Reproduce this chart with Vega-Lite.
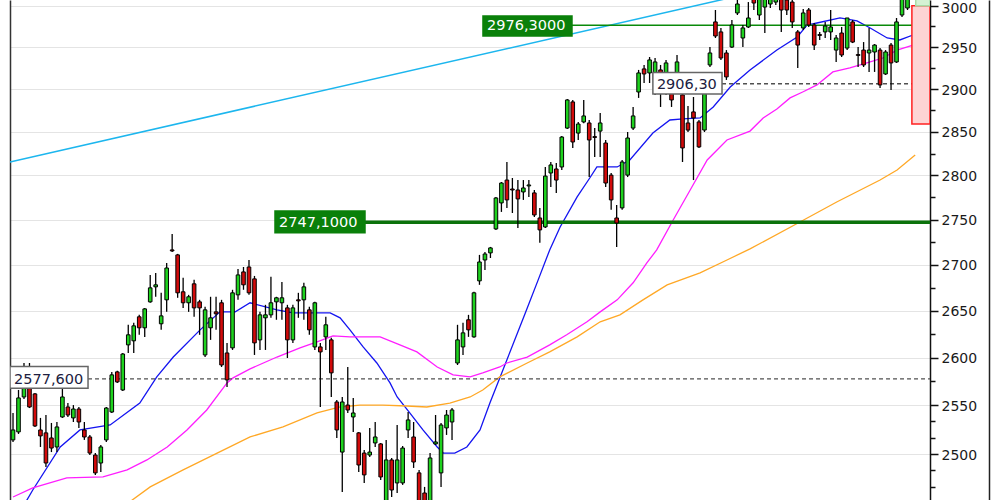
{
  "$schema": "https://vega.github.io/schema/vega-lite/v6.json",
  "width": 920,
  "height": 500,
  "autosize": {"type": "none"},
  "padding": {"left": 10, "top": 0, "right": 70, "bottom": 0},
  "background": "#ffffff",
  "config": {"view": {"stroke": null}, "font": "DejaVu Sans", "scale": {"continuousPadding": 0}},
  "resolve": {"axis": {"y": "independent"}},
  "datasets": {
    "candles": [
      {"i":0,"o":2514.4,"h":2542.1,"l":2512.3,"c":2524.6},
      {"i":1,"o":2522.6,"h":2566.0,"l":2520.5,"c":2557.7},
      {"i":2,"o":2558.7,"h":2594.3,"l":2556.6,"c":2569.2},
      {"i":3,"o":2568.1,"h":2594.3,"l":2547.2,"c":2548.3},
      {"i":4,"o":2561.9,"h":2562.9,"l":2527.7,"c":2528.7},
      {"i":5,"o":2524.6,"h":2537.0,"l":2507.2,"c":2518.5},
      {"i":6,"o":2521.6,"h":2540.0,"l":2486.9,"c":2490.9},
      {"i":7,"o":2516.4,"h":2531.8,"l":2502.0,"c":2506.1},
      {"i":8,"o":2507.2,"h":2532.8,"l":2502.0,"c":2527.7},
      {"i":9,"o":2538.0,"h":2568.1,"l":2537.0,"c":2558.7},
      {"i":10,"o":2548.3,"h":2552.4,"l":2538.0,"c":2540.0},
      {"i":11,"o":2537.0,"h":2550.3,"l":2532.8,"c":2546.2},
      {"i":12,"o":2546.2,"h":2548.3,"l":2526.7,"c":2532.8},
      {"i":13,"o":2524.6,"h":2532.8,"l":2514.4,"c":2517.4},
      {"i":14,"o":2517.4,"h":2519.5,"l":2499.0,"c":2501.0},
      {"i":15,"o":2499.0,"h":2501.0,"l":2478.9,"c":2480.9},
      {"i":16,"o":2490.9,"h":2509.2,"l":2481.9,"c":2507.2},
      {"i":17,"o":2514.4,"h":2548.3,"l":2512.3,"c":2547.2},
      {"i":18,"o":2543.1,"h":2584.9,"l":2542.1,"c":2581.8},
      {"i":19,"o":2584.9,"h":2586.0,"l":2573.4,"c":2574.4},
      {"i":20,"o":2566.0,"h":2604.9,"l":2565.0,"c":2603.8},
      {"i":21,"o":2613.5,"h":2634.9,"l":2604.9,"c":2624.2},
      {"i":22,"o":2617.8,"h":2637.0,"l":2604.9,"c":2633.8},
      {"i":23,"o":2643.5,"h":2645.6,"l":2624.2,"c":2631.7},
      {"i":24,"o":2631.7,"h":2653.1,"l":2622.0,"c":2652.0},
      {"i":25,"o":2659.6,"h":2688.9,"l":2658.6,"c":2674.8},
      {"i":26,"o":2675.9,"h":2691.1,"l":2665.1,"c":2678.1},
      {"i":27,"o":2636.0,"h":2669.4,"l":2629.5,"c":2644.5},
      {"i":28,"o":2661.8,"h":2702.0,"l":2648.8,"c":2696.5},
      {"i":29,"o":2716.4,"h":2734.1,"l":2714.2,"c":2715.3},
      {"i":30,"o":2710.9,"h":2712.0,"l":2664.0,"c":2669.4},
      {"i":31,"o":2670.5,"h":2685.7,"l":2653.1,"c":2658.6},
      {"i":32,"o":2658.6,"h":2667.2,"l":2648.8,"c":2665.1},
      {"i":33,"o":2679.2,"h":2683.5,"l":2643.5,"c":2653.1},
      {"i":34,"o":2659.6,"h":2661.8,"l":2624.2,"c":2653.1},
      {"i":35,"o":2602.8,"h":2654.2,"l":2600.6,"c":2651.0},
      {"i":36,"o":2631.7,"h":2665.1,"l":2618.8,"c":2642.4},
      {"i":37,"o":2648.8,"h":2665.1,"l":2629.5,"c":2646.7},
      {"i":38,"o":2658.6,"h":2661.8,"l":2590.1,"c":2592.2},
      {"i":39,"o":2604.9,"h":2615.6,"l":2569.2,"c":2576.5},
      {"i":40,"o":2610.3,"h":2672.7,"l":2608.1,"c":2669.4},
      {"i":41,"o":2667.2,"h":2695.4,"l":2661.8,"c":2688.9},
      {"i":42,"o":2692.2,"h":2697.6,"l":2672.7,"c":2678.1},
      {"i":43,"o":2697.6,"h":2705.3,"l":2667.2,"c":2669.4},
      {"i":44,"o":2684.6,"h":2687.8,"l":2602.8,"c":2615.6},
      {"i":45,"o":2618.8,"h":2648.8,"l":2608.1,"c":2645.6},
      {"i":46,"o":2642.4,"h":2656.4,"l":2608.1,"c":2645.6},
      {"i":47,"o":2645.6,"h":2686.8,"l":2642.4,"c":2658.6},
      {"i":48,"o":2659.6,"h":2665.1,"l":2640.3,"c":2664.0},
      {"i":49,"o":2658.6,"h":2681.3,"l":2640.3,"c":2664.0},
      {"i":50,"o":2653.1,"h":2656.4,"l":2599.6,"c":2618.8},
      {"i":51,"o":2618.8,"h":2656.4,"l":2615.6,"c":2653.1},
      {"i":52,"o":2661.8,"h":2669.4,"l":2642.4,"c":2660.7},
      {"i":53,"o":2661.8,"h":2680.3,"l":2640.3,"c":2675.9},
      {"i":54,"o":2651.0,"h":2654.2,"l":2624.2,"c":2629.5},
      {"i":55,"o":2611.3,"h":2659.6,"l":2608.1,"c":2658.6},
      {"i":56,"o":2611.3,"h":2615.6,"l":2548.3,"c":2606.0},
      {"i":57,"o":2622.0,"h":2643.5,"l":2608.1,"c":2634.9},
      {"i":58,"o":2618.8,"h":2621.0,"l":2558.7,"c":2583.9},
      {"i":59,"o":2553.5,"h":2555.6,"l":2516.4,"c":2524.6},
      {"i":60,"o":2502.0,"h":2558.7,"l":2461.7,"c":2553.5},
      {"i":61,"o":2550.3,"h":2590.1,"l":2542.1,"c":2545.2},
      {"i":62,"o":2538.0,"h":2557.7,"l":2522.6,"c":2542.1},
      {"i":63,"o":2521.6,"h":2522.6,"l":2481.9,"c":2488.9},
      {"i":64,"o":2501.0,"h":2504.1,"l":2470.8,"c":2478.9},
      {"i":65,"o":2499.0,"h":2526.7,"l":2497.0,"c":2502.0},
      {"i":66,"o":2511.3,"h":2532.8,"l":2507.2,"c":2517.4},
      {"i":67,"o":2510.3,"h":2511.3,"l":2473.8,"c":2476.8},
      {"i":68,"o":2451.7,"h":2514.4,"l":2445.6,"c":2494.0},
      {"i":69,"o":2494.0,"h":2496.0,"l":2456.7,"c":2463.7},
      {"i":70,"o":2470.8,"h":2529.7,"l":2460.7,"c":2494.0},
      {"i":71,"o":2470.8,"h":2508.2,"l":2468.8,"c":2506.1},
      {"i":72,"o":2524.6,"h":2543.1,"l":2516.4,"c":2534.9},
      {"i":73,"o":2517.4,"h":2532.8,"l":2485.9,"c":2491.9},
      {"i":74,"o":2480.9,"h":2483.9,"l":2445.6,"c":2450.7},
      {"i":75,"o":2460.7,"h":2466.8,"l":2438.6,"c":2443.6},
      {"i":76,"o":2443.6,"h":2501.0,"l":2438.6,"c":2496.0},
      {"i":77,"o":2510.3,"h":2540.0,"l":2509.2,"c":2512.3},
      {"i":78,"o":2480.9,"h":2531.8,"l":2466.8,"c":2529.7},
      {"i":79,"o":2526.7,"h":2545.2,"l":2519.5,"c":2540.0},
      {"i":80,"o":2532.8,"h":2547.2,"l":2514.4,"c":2545.2},
      {"i":81,"o":2594.3,"h":2634.9,"l":2592.2,"c":2618.8},
      {"i":82,"o":2611.3,"h":2637.0,"l":2602.8,"c":2626.3},
      {"i":83,"o":2640.3,"h":2645.6,"l":2622.0,"c":2629.5},
      {"i":84,"o":2622.0,"h":2670.5,"l":2621.0,"c":2669.4},
      {"i":85,"o":2682.4,"h":2710.9,"l":2678.1,"c":2703.1},
      {"i":86,"o":2705.3,"h":2714.2,"l":2694.4,"c":2711.9},
      {"i":87,"o":2713.1,"h":2719.7,"l":2707.5,"c":2718.6},
      {"i":88,"o":2739.7,"h":2775.6,"l":2738.6,"c":2774.4},
      {"i":89,"o":2768.8,"h":2792.5,"l":2758.7,"c":2791.3},
      {"i":90,"o":2794.7,"h":2815.3,"l":2763.2,"c":2772.2},
      {"i":91,"o":2784.5,"h":2797.0,"l":2757.5,"c":2783.4},
      {"i":92,"o":2783.4,"h":2794.7,"l":2740.8,"c":2773.3},
      {"i":93,"o":2781.2,"h":2794.7,"l":2772.2,"c":2785.7},
      {"i":94,"o":2788.0,"h":2794.7,"l":2775.6,"c":2789.1},
      {"i":95,"o":2780.1,"h":2783.4,"l":2753.0,"c":2755.3},
      {"i":96,"o":2751.9,"h":2763.2,"l":2724.2,"c":2738.6},
      {"i":97,"o":2741.9,"h":2809.6,"l":2740.8,"c":2799.2},
      {"i":98,"o":2802.7,"h":2815.3,"l":2786.8,"c":2811.9},
      {"i":99,"o":2807.3,"h":2814.2,"l":2780.1,"c":2794.7},
      {"i":100,"o":2809.6,"h":2845.2,"l":2806.2,"c":2844.0},
      {"i":101,"o":2854.4,"h":2888.4,"l":2853.3,"c":2887.2},
      {"i":102,"o":2884.9,"h":2887.2,"l":2831.4,"c":2838.3},
      {"i":103,"o":2848.6,"h":2861.5,"l":2840.6,"c":2859.1},
      {"i":104,"o":2861.5,"h":2887.2,"l":2860.0,"c":2868.5},
      {"i":105,"o":2860.3,"h":2863.8,"l":2798.1,"c":2840.6},
      {"i":106,"o":2844.5,"h":2854.4,"l":2821.0,"c":2843.5},
      {"i":107,"o":2850.9,"h":2872.0,"l":2821.0,"c":2860.3},
      {"i":108,"o":2837.1,"h":2840.6,"l":2786.8,"c":2791.3},
      {"i":109,"o":2800.3,"h":2802.7,"l":2761.0,"c":2772.2},
      {"i":110,"o":2751.9,"h":2766.5,"l":2719.7,"c":2746.3},
      {"i":111,"o":2763.2,"h":2817.6,"l":2761.0,"c":2815.3},
      {"i":112,"o":2800.3,"h":2849.8,"l":2798.1,"c":2842.9},
      {"i":113,"o":2854.4,"h":2879.0,"l":2852.1,"c":2868.5},
      {"i":114,"o":2896.6,"h":2922.7,"l":2889.6,"c":2919.1},
      {"i":115,"o":2923.9,"h":2928.6,"l":2907.2,"c":2917.9},
      {"i":116,"o":2919.1,"h":2938.1,"l":2907.2,"c":2934.6},
      {"i":117,"o":2910.8,"h":2936.9,"l":2893.1,"c":2932.2},
      {"i":118,"o":2922.7,"h":2928.6,"l":2879.0,"c":2896.6},
      {"i":119,"o":2904.9,"h":2934.6,"l":2893.1,"c":2931.0},
      {"i":120,"o":2895.4,"h":2901.3,"l":2879.0,"c":2887.2},
      {"i":121,"o":2914.4,"h":2940.5,"l":2910.8,"c":2932.2},
      {"i":122,"o":2893.1,"h":2895.4,"l":2815.3,"c":2831.4},
      {"i":123,"o":2860.3,"h":2880.2,"l":2849.8,"c":2852.1},
      {"i":124,"o":2873.2,"h":2890.7,"l":2794.7,"c":2866.2},
      {"i":125,"o":2861.5,"h":2863.8,"l":2831.4,"c":2832.6},
      {"i":126,"o":2852.1,"h":2898.9,"l":2849.8,"c":2895.4},
      {"i":127,"o":2928.6,"h":2950.0,"l":2926.2,"c":2942.9},
      {"i":128,"o":2980.3,"h":2994.8,"l":2960.9,"c":2963.3},
      {"i":129,"o":2968.2,"h":2973.0,"l":2934.6,"c":2936.9},
      {"i":130,"o":2942.9,"h":2946.4,"l":2910.8,"c":2914.4},
      {"i":131,"o":2950.0,"h":2982.7,"l":2948.8,"c":2976.6},
      {"i":132,"o":2991.2,"h":3007.0,"l":2988.7,"c":3002.1},
      {"i":133,"o":2960.9,"h":2976.6,"l":2950.0,"c":2973.0},
      {"i":134,"o":2974.2,"h":3004.5,"l":2973.0,"c":2985.1},
      {"i":135,"o":3013.1,"h":3019.2,"l":2994.8,"c":3003.3},
      {"i":136,"o":2988.7,"h":3019.2,"l":2982.7,"c":3013.1},
      {"i":137,"o":2998.4,"h":3019.2,"l":2966.9,"c":3010.6},
      {"i":138,"o":3002.1,"h":3016.7,"l":2997.2,"c":3009.4},
      {"i":139,"o":3004.5,"h":3021.6,"l":3000.9,"c":3016.7},
      {"i":140,"o":3010.6,"h":3016.7,"l":2968.2,"c":2994.8},
      {"i":141,"o":3007.0,"h":3013.1,"l":2988.7,"c":2994.8},
      {"i":142,"o":3004.5,"h":3010.6,"l":2973.0,"c":2980.3},
      {"i":143,"o":2968.2,"h":2970.6,"l":2925.1,"c":2952.4},
      {"i":144,"o":2973.0,"h":2996.0,"l":2970.6,"c":2991.2},
      {"i":145,"o":2994.8,"h":2997.2,"l":2974.2,"c":2976.6},
      {"i":146,"o":2976.6,"h":2979.0,"l":2946.4,"c":2952.4},
      {"i":147,"o":2965.0,"h":2968.2,"l":2958.5,"c":2964.0},
      {"i":148,"o":2968.2,"h":2980.3,"l":2960.9,"c":2975.4},
      {"i":149,"o":2968.2,"h":2994.8,"l":2958.5,"c":2974.2},
      {"i":150,"o":2946.4,"h":2964.5,"l":2932.2,"c":2960.9},
      {"i":151,"o":2966.9,"h":2974.2,"l":2938.1,"c":2940.5},
      {"i":152,"o":2948.8,"h":2985.1,"l":2946.4,"c":2985.1},
      {"i":153,"o":2980.3,"h":2982.7,"l":2954.8,"c":2956.0},
      {"i":154,"o":2941.0,"h":2950.0,"l":2926.2,"c":2940.0},
      {"i":155,"o":2946.4,"h":2956.0,"l":2926.2,"c":2928.6},
      {"i":156,"o":2942.9,"h":2973.0,"l":2920.3,"c":2946.4},
      {"i":157,"o":2944.1,"h":2953.6,"l":2920.3,"c":2952.4},
      {"i":158,"o":2946.4,"h":2948.8,"l":2901.3,"c":2904.9},
      {"i":159,"o":2917.9,"h":2946.4,"l":2916.7,"c":2944.1},
      {"i":160,"o":2952.4,"h":2954.8,"l":2899.0,"c":2931.0},
      {"i":161,"o":2932.2,"h":2985.1,"l":2931.0,"c":2980.3},
      {"i":162,"o":2988.7,"h":3019.2,"l":2986.3,"c":3013.1},
      {"i":163,"o":2997.2,"h":3024.1,"l":2994.8,"c":3016.7}
    ],
    "ma": [
      {"s":"MA20","i":0,"v":2430},{"s":"MA20","i":3.6,"v":2463.7},{"s":"MA20","i":8.6,"v":2507.2},{"s":"MA20","i":12.2,"v":2524.6},{"s":"MA20","i":17.7,"v":2529.7},{"s":"MA20","i":23.1,"v":2552.4},{"s":"MA20","i":26.2,"v":2579.7},{"s":"MA20","i":29.2,"v":2600.6},{"s":"MA20","i":34.1,"v":2629.5},{"s":"MA20","i":37.7,"v":2648.8},{"s":"MA20","i":40.5,"v":2648.8},{"s":"MA20","i":43.2,"v":2658.6},{"s":"MA20","i":48.1,"v":2651.0},{"s":"MA20","i":51,"v":2647.8},{"s":"MA20","i":57.8,"v":2647.8},{"s":"MA20","i":59.6,"v":2642.4},{"s":"MA20","i":61.4,"v":2629.5},{"s":"MA20","i":63.8,"v":2611.3},{"s":"MA20","i":66.3,"v":2594.3},{"s":"MA20","i":68.7,"v":2573.4},{"s":"MA20","i":70,"v":2558.7},{"s":"MA20","i":72.3,"v":2542.1},{"s":"MA20","i":74.7,"v":2524.6},{"s":"MA20","i":77.3,"v":2507.2},{"s":"MA20","i":78.4,"v":2501.0},{"s":"MA20","i":80.5,"v":2501.0},{"s":"MA20","i":82.7,"v":2507.2},{"s":"MA20","i":85.1,"v":2524.6},{"s":"MA20","i":86.9,"v":2552.4},{"s":"MA20","i":88.7,"v":2578.6},{"s":"MA20","i":93.3,"v":2646.7},{"s":"MA20","i":95.7,"v":2683.5},{"s":"MA20","i":97.8,"v":2716.4},{"s":"MA20","i":99.7,"v":2741.9},{"s":"MA20","i":102.8,"v":2775.6},{"s":"MA20","i":105.1,"v":2797.0},{"s":"MA20","i":106.4,"v":2809.6},{"s":"MA20","i":110.1,"v":2809.6},{"s":"MA20","i":112.4,"v":2817.6},{"s":"MA20","i":116.6,"v":2848.6},{"s":"MA20","i":119.7,"v":2863.8},{"s":"MA20","i":122.1,"v":2865.0},{"s":"MA20","i":125.2,"v":2866.2},{"s":"MA20","i":127.6,"v":2879.0},{"s":"MA20","i":130.7,"v":2902.5},{"s":"MA20","i":134.3,"v":2922.7},{"s":"MA20","i":139.2,"v":2946.4},{"s":"MA20","i":142.9,"v":2962.1},{"s":"MA20","i":144.7,"v":2976.6},{"s":"MA20","i":146.5,"v":2979.0},{"s":"MA20","i":150.7,"v":2985.1},{"s":"MA20","i":153.8,"v":2981.5},{"s":"MA20","i":156.2,"v":2973.0},{"s":"MA20","i":159.3,"v":2960.9},{"s":"MA20","i":161.6,"v":2958.5},{"s":"MA20","i":164,"v":2964.5},
      {"s":"MA50","i":0,"v":2456.7},{"s":"MA50","i":3.6,"v":2465.8},{"s":"MA50","i":9.8,"v":2475.9},{"s":"MA50","i":16.4,"v":2476.8},{"s":"MA50","i":20.8,"v":2483.9},{"s":"MA50","i":24.4,"v":2494.0},{"s":"MA50","i":28.1,"v":2507.2},{"s":"MA50","i":31.7,"v":2524.6},{"s":"MA50","i":35.3,"v":2545.2},{"s":"MA50","i":39.0,"v":2573.4},{"s":"MA50","i":40.1,"v":2578.6},{"s":"MA50","i":43.2,"v":2588.1},{"s":"MA50","i":48.1,"v":2600.6},{"s":"MA50","i":52.3,"v":2610.3},{"s":"MA50","i":55.4,"v":2616.7},{"s":"MA50","i":58.3,"v":2623.1},{"s":"MA50","i":61.4,"v":2622.0},{"s":"MA50","i":66.9,"v":2622.0},{"s":"MA50","i":70.5,"v":2613.5},{"s":"MA50","i":73.6,"v":2606.0},{"s":"MA50","i":77.3,"v":2590.1},{"s":"MA50","i":80.2,"v":2581.8},{"s":"MA50","i":83.3,"v":2579.7},{"s":"MA50","i":85.6,"v":2583.9},{"s":"MA50","i":88.7,"v":2590.1},{"s":"MA50","i":90.0,"v":2594.3},{"s":"MA50","i":93.7,"v":2600.6},{"s":"MA50","i":97.8,"v":2613.5},{"s":"MA50","i":100.9,"v":2624.2},{"s":"MA50","i":104.6,"v":2638.1},{"s":"MA50","i":107.0,"v":2648.8},{"s":"MA50","i":110.1,"v":2661.8},{"s":"MA50","i":113.0,"v":2680.3},{"s":"MA50","i":115.5,"v":2702.0},{"s":"MA50","i":117.3,"v":2716.4},{"s":"MA50","i":120.3,"v":2749.7},{"s":"MA50","i":123.4,"v":2783.4},{"s":"MA50","i":126.5,"v":2817.6},{"s":"MA50","i":130.1,"v":2840.6},{"s":"MA50","i":134.3,"v":2850.9},{"s":"MA50","i":136.7,"v":2866.2},{"s":"MA50","i":139.2,"v":2876.7},{"s":"MA50","i":141.6,"v":2889.6},{"s":"MA50","i":143.9,"v":2896.6},{"s":"MA50","i":146.5,"v":2904.9},{"s":"MA50","i":149.4,"v":2920.3},{"s":"MA50","i":152.5,"v":2925.1},{"s":"MA50","i":155.6,"v":2931.0},{"s":"MA50","i":158.5,"v":2936.9},{"s":"MA50","i":161.1,"v":2946.4},{"s":"MA50","i":164.0,"v":2952.4},
      {"s":"MA100","i":21.3,"v":2452.0},{"s":"MA100","i":25.0,"v":2466.8},{"s":"MA100","i":31.0,"v":2483.9},{"s":"MA100","i":37.2,"v":2501.0},{"s":"MA100","i":43.2,"v":2517.4},{"s":"MA100","i":49.2,"v":2527.7},{"s":"MA100","i":55.4,"v":2542.1},{"s":"MA100","i":59.6,"v":2548.3},{"s":"MA100","i":63.2,"v":2550.3},{"s":"MA100","i":67.4,"v":2550.3},{"s":"MA100","i":71.8,"v":2549.3},{"s":"MA100","i":75.4,"v":2548.3},{"s":"MA100","i":79.6,"v":2552.4},{"s":"MA100","i":83.3,"v":2558.7},{"s":"MA100","i":85.6,"v":2566.0},{"s":"MA100","i":88.7,"v":2579.7},{"s":"MA100","i":93.7,"v":2594.3},{"s":"MA100","i":97.8,"v":2606.0},{"s":"MA100","i":102.8,"v":2622.0},{"s":"MA100","i":107.0,"v":2638.1},{"s":"MA100","i":110.6,"v":2645.6},{"s":"MA100","i":114.8,"v":2661.8},{"s":"MA100","i":119.2,"v":2678.1},{"s":"MA100","i":125.2,"v":2691.1},{"s":"MA100","i":130.1,"v":2705.3},{"s":"MA100","i":134.3,"v":2717.5},{"s":"MA100","i":143.4,"v":2747.4},{"s":"MA100","i":150.1,"v":2769.9},{"s":"MA100","i":158.0,"v":2794.7},{"s":"MA100","i":161.1,"v":2806.2},{"s":"MA100","i":164.4,"v":2823.3}
    ],
    "trend": [{"i":-0.55,"v":2815.3},{"i":167.1,"v":3066.0}],
    "levels": [
      {"label":"2577,600","level":2577.6,"b0":-0.55,"b1":13.67,"bt":2590.5,"bb":2567.8,"l1":167.1,"kind":"dash"},
      {"label":"2906,30","level":2906.3,"b0":116.6,"b1":129.2,"bt":2919.5,"bb":2894.3,"l1":167.1,"kind":"dash"},
      {"label":"2976,3000","level":2976.3,"b0":85.64,"b1":101.86,"bt":2987.5,"bb":2963.3,"l1":167.1,"kind":"thin"},
      {"label":"2747,1000","level":2747.1,"b0":47.74,"b1":64.14,"bt":2759.6,"bb":2735.3,"l1":167.1,"kind":"thick"}
    ],
    "zones": [
      {"z":"down","x0":163.8,"x1":167.1,"top":3000,"bot":2859.1},
      {"z":"up","x0":164.5,"x1":167.1,"top":3040,"bot":3000}
    ]
  },
  "layer": [
    {
      "data": {"name": "trend"},
      "mark": {"type": "point", "opacity": 0, "clip": true},
      "encoding": {
        "x": {"field": "i", "type": "quantitative", "scale": {"domain": [-0.55, 167.1], "nice": false, "zero": false, "padding": 0}, "axis": null},
        "y": {"field": "v", "type": "quantitative", "scale": {"type": "log", "domain": [2453.7, 3007.0], "nice": false, "padding": 0},
              "axis": {"orient": "left", "domain": true, "domainColor": "#333333", "domainWidth": 1.5, "ticks": false, "labels": false, "grid": false, "title": null}}
      }
    },
    {
      "data": {"name": "trend"},
      "mark": {"type": "point", "opacity": 0, "clip": true},
      "encoding": {
        "x": {"field": "i", "type": "quantitative", "axis": null},
        "y": {"field": "v", "type": "quantitative",
              "axis": {"orient": "right", "offset": 59, "domain": true, "domainColor": "#222222", "domainWidth": 1.5, "ticks": false, "labels": false, "grid": false, "title": null}}
      }
    },
    {
      "data": {"name": "trend"},
      "mark": {"type": "point", "opacity": 0, "clip": true},
      "encoding": {
        "x": {"field": "i", "type": "quantitative", "axis": null},
        "y": {"field": "v", "type": "quantitative",
              "axis": {"orient": "right", "values": [2466.67, 2483.33, 2516.67, 2533.33, 2575, 2625, 2675, 2725, 2775, 2825, 2875, 2925, 2975], "domain": false, "ticks": true, "tickSize": 5, "tickWidth": 1.5, "tickColor": "#111111", "labels": false, "grid": false, "title": null}}
      }
    },
    {
      "data": {"name": "trend"},
      "mark": {"type": "line", "color": "#1cb6ee", "strokeWidth": 1.5, "clip": true},
      "encoding": {
        "x": {"field": "i", "type": "quantitative", "axis": null},
        "y": {"field": "v", "type": "quantitative", "axis": null}
      }
    },
    {
      "data": {"name": "ma"},
      "mark": {"type": "line", "strokeWidth": 1.3, "clip": true},
      "encoding": {
        "x": {"field": "i", "type": "quantitative", "axis": null},
        "y": {"field": "v", "type": "quantitative", "axis": null},
        "color": {"field": "s", "type": "nominal", "scale": {"domain": ["MA20", "MA50", "MA100"], "range": ["#1414f0", "#ff1eff", "#ffa826"]}, "legend": null}
      }
    },
    {
      "data": {"name": "levels"},
      "transform": [{"filter": "datum.kind == 'dash'"}],
      "mark": {"type": "rule", "color": "#505050", "strokeWidth": 1.3, "strokeDash": [4, 3], "clip": true},
      "encoding": {
        "x": {"field": "b1", "type": "quantitative", "axis": null},
        "x2": {"field": "l1"},
        "y": {"field": "level", "type": "quantitative", "axis": null}
      }
    },
    {
      "data": {"name": "levels"},
      "transform": [{"filter": "datum.kind == 'thin'"}],
      "mark": {"type": "rule", "color": "#0a8a0a", "strokeWidth": 1.6, "clip": true},
      "encoding": {
        "x": {"field": "b1", "type": "quantitative", "axis": null},
        "x2": {"field": "l1"},
        "y": {"field": "level", "type": "quantitative", "axis": null}
      }
    },
    {
      "data": {"name": "levels"},
      "transform": [{"filter": "datum.kind == 'thick'"}],
      "mark": {"type": "rule", "color": "#0b720b", "strokeWidth": 3.5, "clip": true},
      "encoding": {
        "x": {"field": "b1", "type": "quantitative", "axis": null},
        "x2": {"field": "l1"},
        "y": {"field": "level", "type": "quantitative", "axis": null}
      }
    },
    {
      "data": {"name": "candles"},
      "mark": {"type": "rule", "color": "#000000", "strokeWidth": 1.3, "clip": true},
      "encoding": {
        "x": {"field": "i", "type": "quantitative",
              "axis": {"values": [16.4, 55.4, 98.2, 139.2], "grid": true, "gridColor": "#e2e2e2", "gridDash": [2, 2], "domain": false, "ticks": false, "labels": false, "title": null}},
        "y": {"field": "l", "type": "quantitative",
              "axis": {"orient": "right", "values": [2500, 2550, 2600, 2650, 2700, 2750, 2800, 2850, 2900, 2950, 3000], "format": "d",
                       "labelFont": "DejaVu Sans", "labelFontSize": 14, "labelColor": "#1a1a1a", "labelPadding": 3,
                       "labelOffset": {"condition": {"test": "datum.value >= 3000", "value": 3}, "value": 1},
                       "labelOverlap": false, "labelBound": false,
                       "tickSize": 8, "tickWidth": 1.5, "tickColor": "#111111", "domainColor": "#111111", "domainWidth": 1.5,
                       "grid": true, "gridColor": "#e4e4e4", "gridWidth": 1, "title": null}},
        "y2": {"field": "h"}
      }
    },
    {
      "data": {"name": "candles"},
      "mark": {"type": "bar", "width": 3.6, "stroke": "#000000", "strokeWidth": 1, "clip": true},
      "encoding": {
        "x": {"field": "i", "type": "quantitative", "axis": null},
        "y": {"field": "o", "type": "quantitative", "axis": null},
        "y2": {"field": "c"},
        "fill": {"condition": {"test": "datum.c >= datum.o", "value": "#1ed21e"}, "value": "#d20a0a"}
      }
    },
    {
      "data": {"name": "levels"},
      "mark": {"type": "rect", "strokeWidth": 1.5, "clip": true},
      "encoding": {
        "x": {"field": "b0", "type": "quantitative", "axis": null},
        "x2": {"field": "b1"},
        "y": {"field": "bt", "type": "quantitative", "axis": null},
        "y2": {"field": "bb"},
        "fill": {"condition": {"test": "datum.kind == 'dash'", "value": "#ffffff"}, "value": "#0a800a"},
        "stroke": {"condition": {"test": "datum.kind == 'dash'", "value": "#666666"}, "value": "#0a800a"}
      }
    },
    {
      "data": {"name": "levels"},
      "mark": {"type": "text", "align": "left", "baseline": "middle", "dx": 4, "dy": 1, "font": "DejaVu Sans", "fontSize": 14.5},
      "encoding": {
        "x": {"field": "b0", "type": "quantitative", "axis": null},
        "y": {"field": "level", "type": "quantitative", "axis": null},
        "text": {"field": "label"},
        "fill": {"condition": {"test": "datum.kind == 'dash'", "value": "#202040"}, "value": "#ffffff"}
      }
    },
    {
      "data": {"name": "zones"},
      "mark": {"type": "rect", "strokeWidth": 1.5, "clip": true},
      "encoding": {
        "x": {"field": "x0", "type": "quantitative", "axis": null},
        "x2": {"field": "x1"},
        "y": {"field": "top", "type": "quantitative", "axis": null},
        "y2": {"field": "bot"},
        "fill": {"condition": {"test": "datum.z == 'down'", "value": "#fdd4d4"}, "value": "#d4f2d4"},
        "stroke": {"condition": {"test": "datum.z == 'down'", "value": "#ff2020"}, "value": "#a8dca8"}
      }
    }
  ]
}
